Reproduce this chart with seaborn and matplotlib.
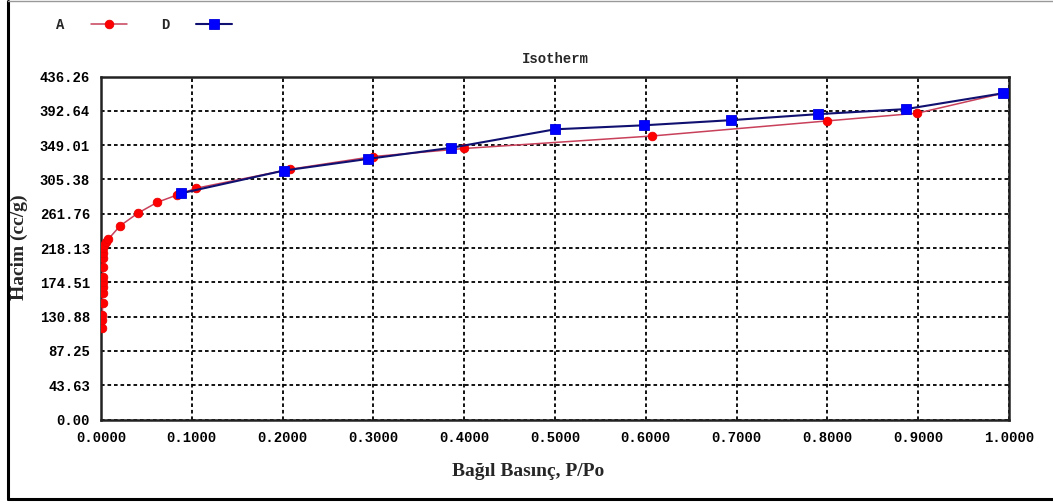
import numpy as np
import pandas as pd
import seaborn as sns
import matplotlib
matplotlib.use("Agg")
import matplotlib.pyplot as plt
from matplotlib.lines import Line2D

# Adsorption branch (A)
a_pressure = [0.0015, 0.0016, 0.0016, 0.0017, 0.0017, 0.0018, 0.0018, 0.0019, 0.0019,
              0.0020, 0.0021, 0.0025, 0.0036, 0.0055, 0.0080, 0.0209, 0.0404, 0.0620,
              0.0834, 0.1046, 0.2084, 0.2995, 0.4000, 0.6070, 0.8000, 0.8990, 0.9935]
a_volume = [116.0, 126.6, 133.0, 147.8, 160.5, 169.0, 175.3, 181.7, 194.4,
            205.0, 211.5, 217.8, 222.0, 226.2, 229.3, 246.2, 262.3, 276.3,
            285.4, 294.1, 318.3, 334.4, 344.7, 360.6, 379.8, 389.6, 415.0]

# Desorption branch (D)
d_pressure = [0.0885, 0.2010, 0.2942, 0.3858, 0.5000, 0.5980, 0.6935, 0.7900, 0.8864, 0.9935]
d_volume = [287.8, 316.5, 331.5, 345.6, 369.1, 374.2, 380.7, 388.4, 394.8, 415.0]

x_ticks = [0.0, 0.1, 0.2, 0.3, 0.4, 0.5, 0.6, 0.7, 0.8, 0.9, 1.0]
x_tick_labels = ["0.0000", "0.1000", "0.2000", "0.3000", "0.4000", "0.5000",
                 "0.6000", "0.7000", "0.8000", "0.9000", "1.0000"]
y_ticks = [0.00, 43.63, 87.25, 130.88, 174.51, 218.13, 261.76, 305.38, 349.01, 392.64, 436.26]
y_tick_labels = ["0.00", "43.63", "87.25", "130.88", "174.51", "218.13",
                 "261.76", "305.38", "349.01", "392.64", "436.26"]

sns.set_style("white")
plt.rcParams["font.family"] = ["DejaVu Sans"]

mono = {"family": "Liberation Mono", "weight": "bold", "size": 10}
serif = {"family": "Liberation Serif", "weight": "bold", "size": 14}

fig = plt.figure(figsize=(10.53, 5.04), dpi=100)
ax = fig.add_axes([101 / 1053, 1 - 419.5 / 504, 908 / 1053, 343 / 504])

df_a = pd.DataFrame({"p": a_pressure, "v": a_volume})
df_d = pd.DataFrame({"p": d_pressure, "v": d_volume})

sns.lineplot(data=df_a, x="p", y="v", ax=ax, sort=False, estimator=None,
             color="#c8405a", lw=1.1, marker="o", markersize=6.2,
             markerfacecolor="#ff0000", markeredgecolor="#ee0000", markeredgewidth=0.6,
             label="A", zorder=3)
sns.lineplot(data=df_d, x="p", y="v", ax=ax, sort=False, estimator=None,
             color="#101070", lw=1.5, marker="s", markersize=7,
             markerfacecolor="#0000ff", markeredgecolor="#0000dd", markeredgewidth=0.6,
             label="D", zorder=4)

ax.set_xlim(0, 1.0)
ax.set_ylim(0, 436.26)
ax.set_xticks(x_ticks)
ax.set_xticklabels(x_tick_labels, fontdict=mono)
ax.set_yticks(y_ticks)
ax.set_yticklabels(y_tick_labels, fontdict=mono)
ax.tick_params(axis="both", length=0, pad=8, colors="black")
ax.set_xlabel("")
ax.set_ylabel("")

ax.grid(True, color="black", linestyle=(0, (2.0, 1.6)), linewidth=1.3)
ax.set_axisbelow(True)
for side in ["left", "bottom", "top", "right"]:
    ax.spines[side].set_visible(True)
    ax.spines[side].set_color("#222222")
    ax.spines[side].set_linewidth(1.8)

ax.set_title("Isotherm", fontdict=mono, pad=10)

fig.text(528 / 1053, 1 - 472 / 504, "Bağıl Basınç, P/Po", ha="center", va="center", fontdict=serif)
fig.text(19 / 1053, 1 - 247 / 504, "Hacim (cc/g)", ha="center", va="center",
         rotation=90, fontdict=serif)

handles, labels = ax.get_legend_handles_labels()
ax.get_legend().remove()
fig.legend(handles, labels, loc="center left", bbox_to_anchor=(44 / 1053, 1 - 25 / 504),
           ncol=2, markerfirst=False, frameon=False, prop=mono,
           handlelength=2.6, handletextpad=1.9, columnspacing=2.45)

# Outer frame around the whole picture
fig.add_artist(Line2D([7.5 / 1053, 7.5 / 1053], [1 - 1 / 504, 1 - 499 / 504],
                      transform=fig.transFigure, color="black", lw=2.2))
fig.add_artist(Line2D([7.5 / 1053, 1.0], [1 - 499 / 504, 1 - 499 / 504],
                      transform=fig.transFigure, color="black", lw=2.2))
fig.add_artist(Line2D([7.5 / 1053, 1.0], [1 - 0.8 / 504, 1 - 0.8 / 504],
                      transform=fig.transFigure, color="#999999", lw=1))

fig.savefig("out.png", dpi=100)
